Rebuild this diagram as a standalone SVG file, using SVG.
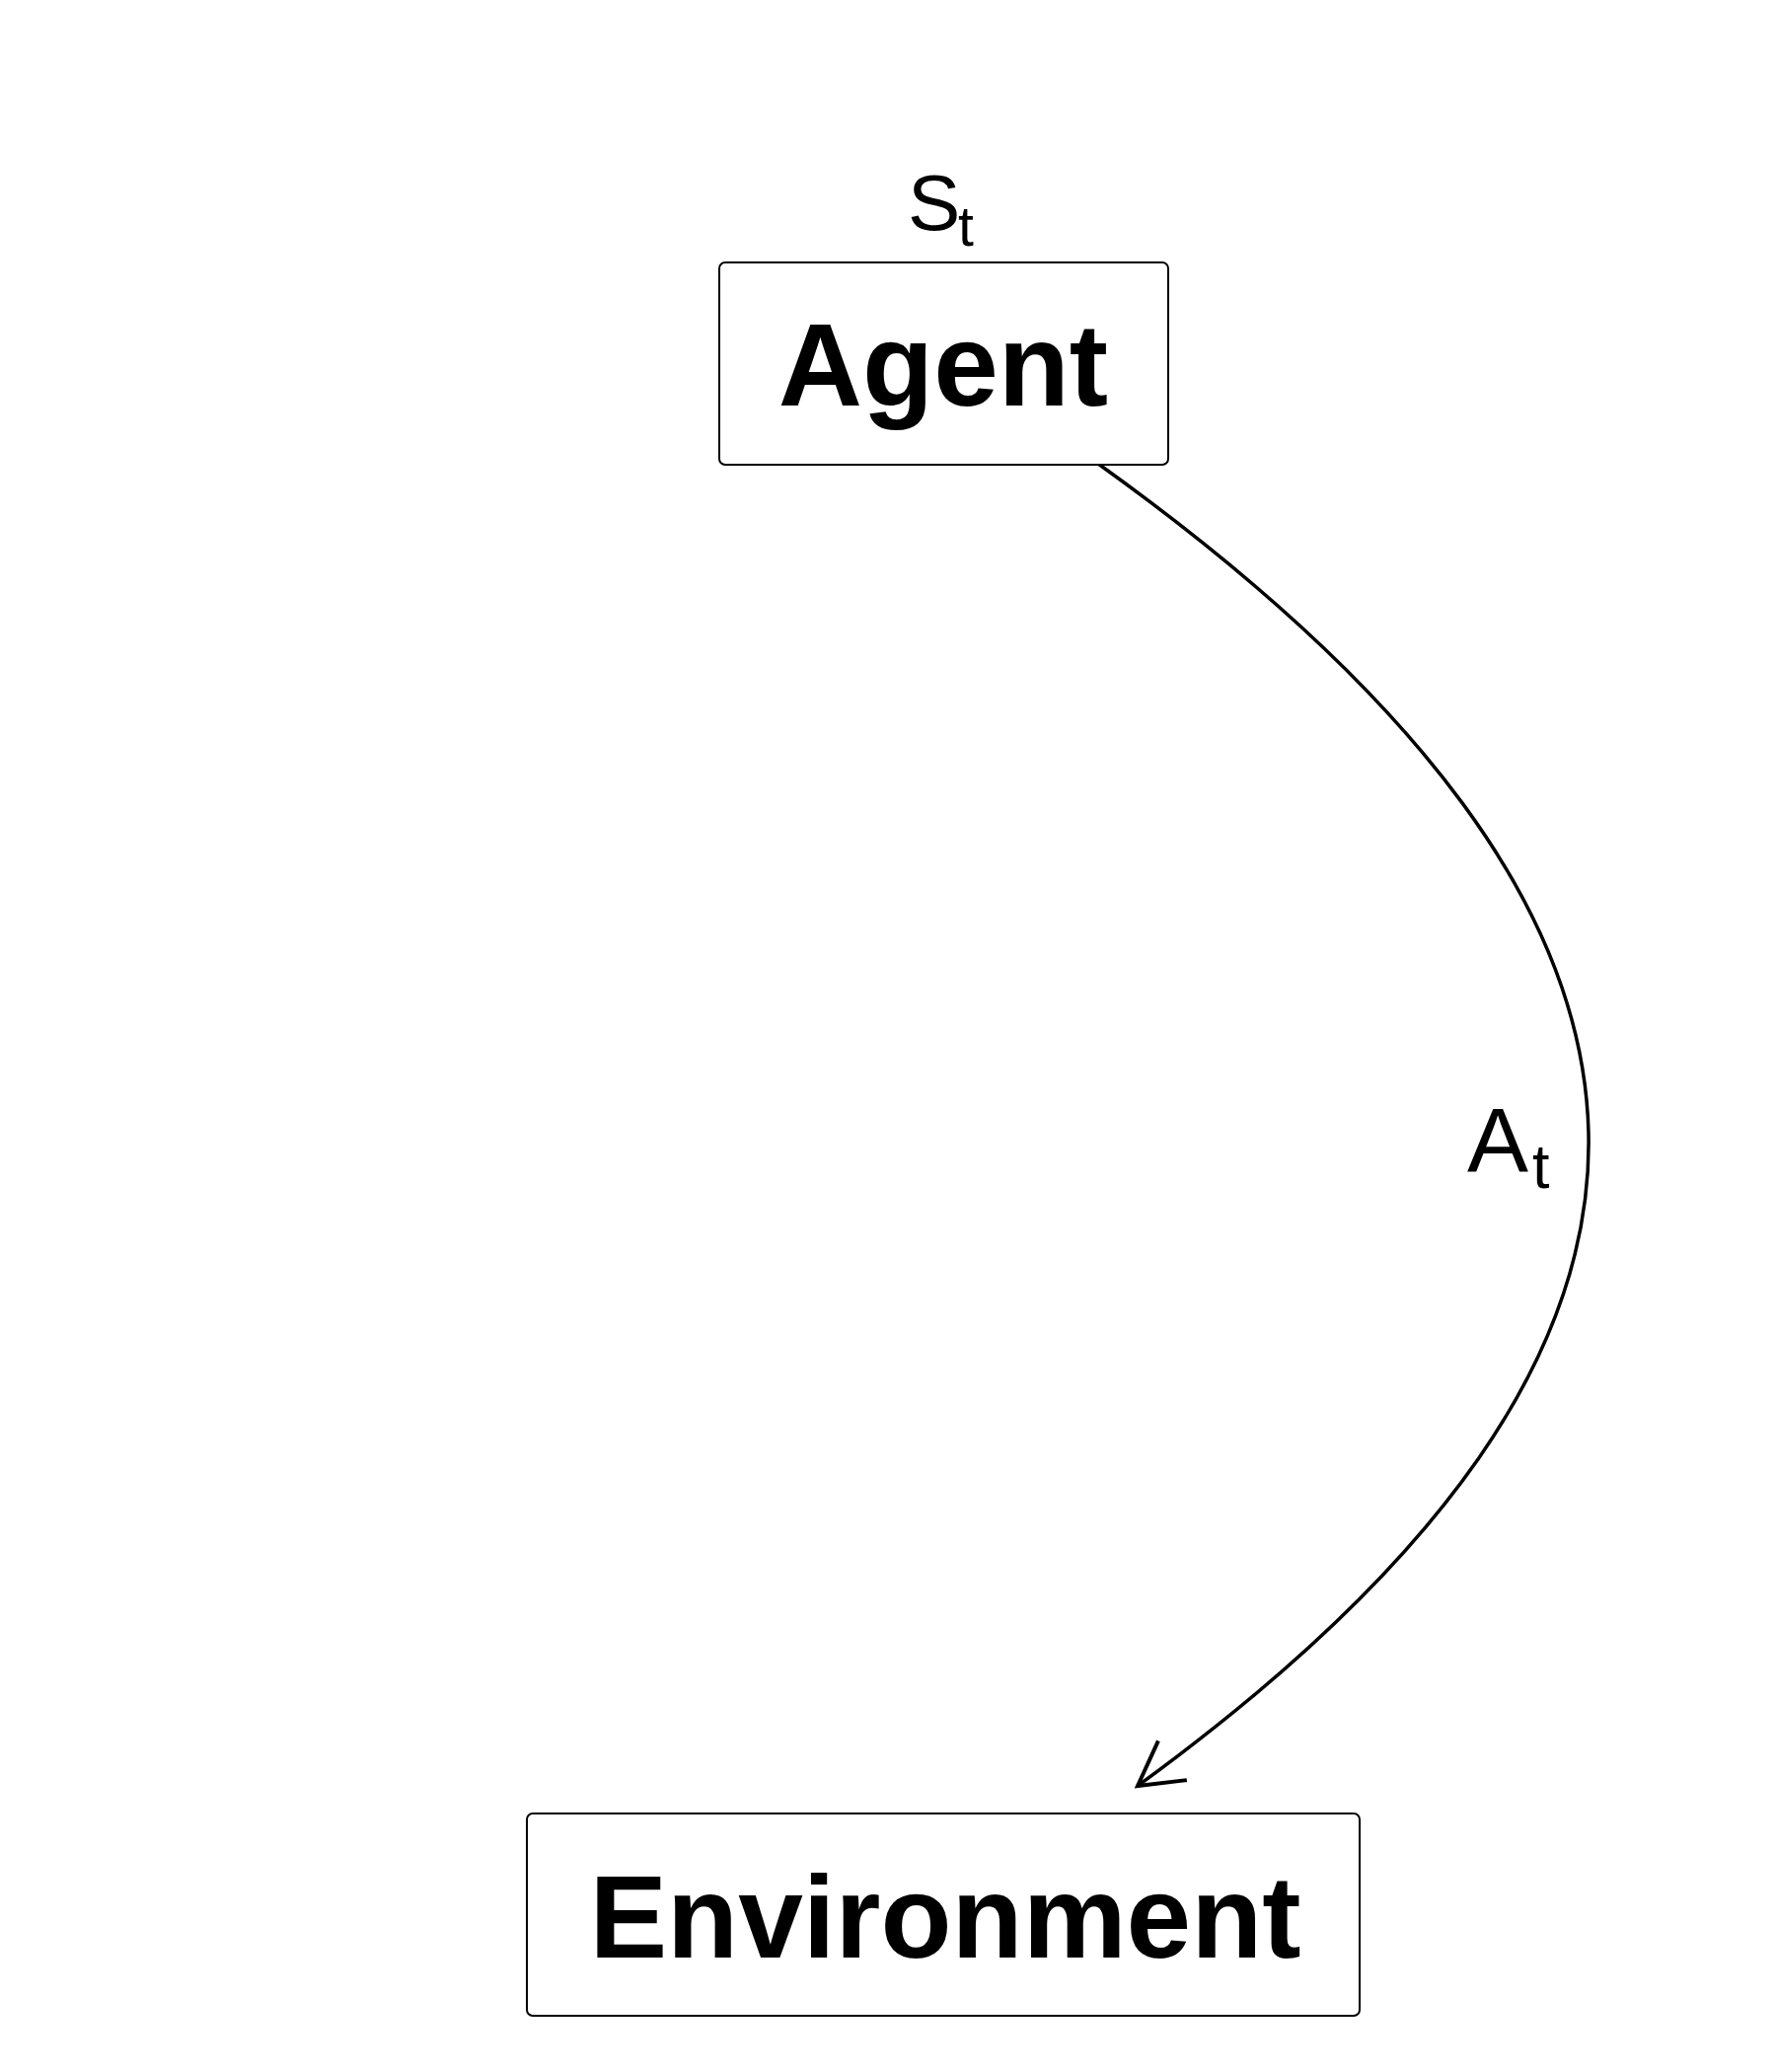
<svg xmlns="http://www.w3.org/2000/svg" width="1800" height="2100" viewBox="0 0 1800 2100">
<style>
.box{fill:#fff;stroke:#000;stroke-width:2}
.title{font-family:"Liberation Sans",Arial,sans-serif;font-weight:bold;font-size:118px;text-anchor:middle;fill:#000}
.lbl{font-family:"Liberation Sans",Arial,sans-serif;fill:#000}
.edge{fill:none;stroke:#000;stroke-width:3.5}
</style>
<defs>
<marker id="vee" markerUnits="userSpaceOnUse" orient="auto" refX="0" refY="0" markerWidth="60" markerHeight="60" viewBox="-50 -30 60 60" overflow="visible">
<path d="M-42,-23.6 L0,0 L-42,23.6" fill="none" stroke="#000" stroke-width="4" stroke-linecap="square"/>
</marker>
</defs>
<rect width="1800" height="2100" fill="#fff"/>
<g id="edges">
<path class="edge" d="M1113,470 C1769,940 1769,1362 1153,1810" marker-end="url(#vee)"/>
<text class="lbl" font-size="93" x="1487" y="1188">A<tspan font-size="63" x="1553" y="1204">t</tspan></text>
</g>
<g id="agent">
<rect class="box" x="729" y="266" width="455" height="205" rx="6"/>
<text class="title" x="956" y="411">Agent</text>
<text class="lbl" font-size="80" x="920" y="233">S<tspan font-size="57" x="971" y="249">t</tspan></text>
</g>
<g id="environment">
<rect class="box" x="534" y="1838" width="844" height="205" rx="6"/>
<text class="title" x="958" y="1984">Environment</text>
</g>
</svg>
